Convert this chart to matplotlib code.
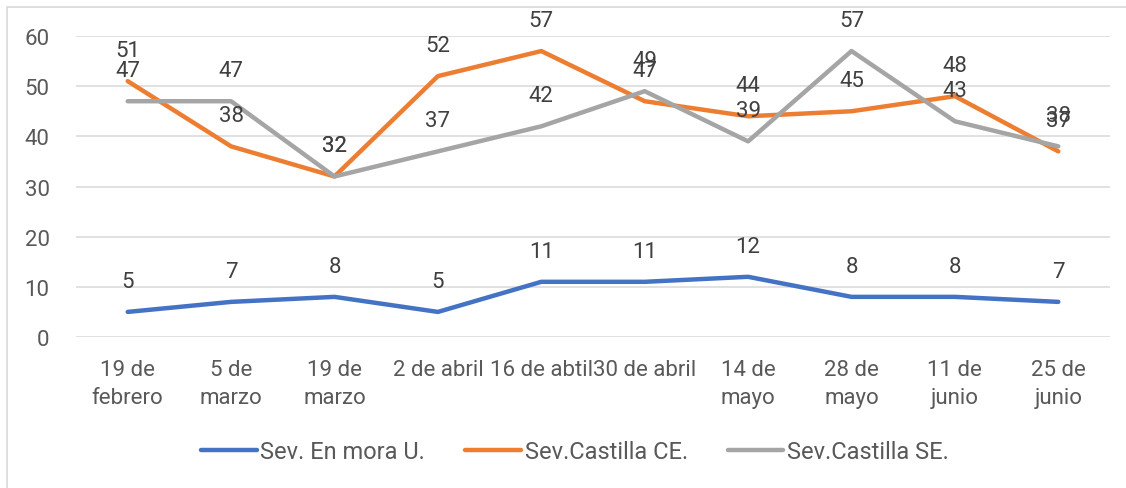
import matplotlib.pyplot as plt
from matplotlib.patches import Rectangle

plt.rcParams['font.family'] = ['Roboto', 'DejaVu Sans']

fechas = ['19 de\nfebrero', '5 de\nmarzo', '19 de\nmarzo', '2 de abril', '16 de abtil',
          '30 de abril', '14 de\nmayo', '28 de\nmayo', '11 de\njunio', '25 de\njunio']
en_mora = [5, 7, 8, 5, 11, 11, 12, 8, 8, 7]
castilla_ce = [51, 38, 32, 52, 57, 47, 44, 45, 48, 37]
castilla_se = [47, 47, 32, 37, 42, 49, 39, 57, 43, 38]

series = [
    ('Sev. En mora U.', en_mora, '#4472C4'),
    ('Sev.Castilla CE.', castilla_ce, '#ED7D31'),
    ('Sev.Castilla SE.', castilla_se, '#A5A5A5'),
]

txt = '#595959'
fig = plt.figure(figsize=(11.26, 4.89), dpi=100)
ax = fig.add_axes([76/1126, 1-338/489, 1034/1126, 301/489])

x = list(range(len(fechas)))
for nombre, vals, col in series:
    ax.plot(x, vals, color=col, lw=3.2, label=nombre, solid_capstyle='round',
            solid_joinstyle='round', clip_on=False, zorder=3)
for nombre, vals, col in series:
    for xi, v in zip(x, vals):
        ax.annotate(str(v), (xi, v), xytext=(0, 18), textcoords='offset points',
                    ha='center', va='baseline', fontsize=16, color='#404040', zorder=4)

ax.set_xlim(-0.5, len(fechas) - 0.5)
ax.set_ylim(0, 60)
ax.set_yticks(range(0, 61, 10))
ax.set_xticks(x)
ax.set_xticklabels(fechas, fontsize=16, color=txt, linespacing=1.4)
ax.tick_params(axis='y', length=0, pad=19, labelsize=16, labelcolor=txt)
ax.tick_params(axis='x', length=0, pad=16)
ax.grid(axis='y', color='#D9D9D9', lw=1.1, zorder=0)
for s in ax.spines.values():
    s.set_visible(False)

fig.legend(loc='center', bbox_to_anchor=(575/1126, 1-453/489), ncol=3, frameon=False,
           fontsize=17, labelcolor=txt, handlelength=2.35, handletextpad=0.16,
           columnspacing=1.7)

fig.patches.append(Rectangle((7/1126, -0.05), 1.1, 1-8/489+0.05, transform=fig.transFigure,
                             fill=False, edgecolor='#D9D9D9', lw=1.2))

fig.savefig('out.png', dpi=100)
